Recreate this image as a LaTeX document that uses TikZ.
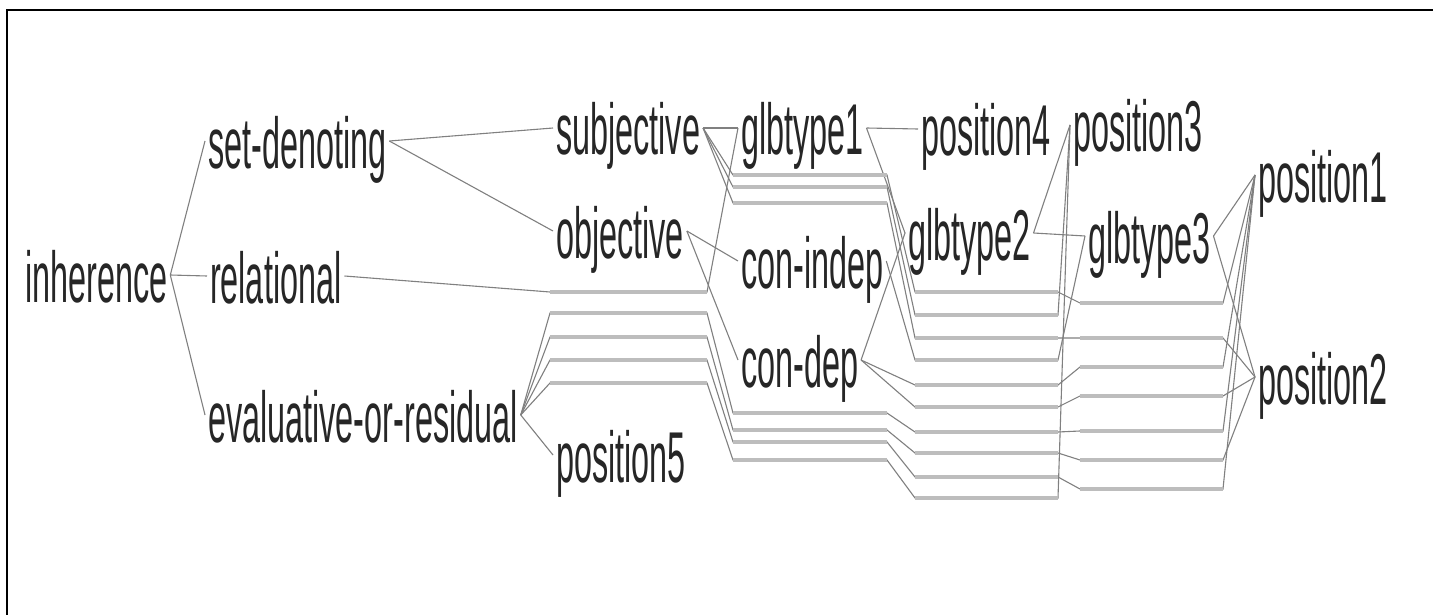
\documentclass[tikz,border=0pt]{standalone}
\usepackage{fontspec}
\usepackage{graphicx}
\newfontfamily\lblfamily{Liberation Sans}
\newcommand{\lbl}[1]{\scalebox{0.45}[1]{#1}}
% a routing bar for an edge that crosses a column
\newcommand{\routebar}[4]{\coordinate (#1-l) at (#2,#4); \coordinate (#1-r) at (#3,#4);}
\begin{document}
\begin{tikzpicture}[x=1pt,y=-1pt,
  lbl/.style={anchor=base west, inner sep=0pt, outer xsep=3pt, outer ysep=0pt,
    text height=54pt, text depth=0pt, text=black!85,
    font=\lblfamily\fontsize{72}{80}\selectfont},
  edge/.style={draw=black!50, line width=1.1pt},
  bar/.style={draw=black!26, line width=4.5pt}]
\useasboundingbox (0,0) rectangle (1433,615);
\fill[white] (0,0) rectangle (1433,615);
\draw[line width=2.2pt, line cap=rect] (7,615) -- (7,10) -- (1433,10);

% type nodes
\node[lbl] (inherence) at (22,302) {\lbl{inherence}};
\node[lbl] (setden) at (205,168) {\lbl{set-denoting}};
\node[lbl] (relational) at (207,303) {\lbl{relational}};
\node[lbl] (evalres) at (205,442) {\lbl{evaluative-or-residual}};
\node[lbl] (subjective) at (553,155) {\lbl{subjective}};
\node[lbl] (objective) at (553,258) {\lbl{objective}};
\node[lbl] (position5) at (553,482) {\lbl{position5}};
\node[lbl] (glbtype1) at (738,155) {\lbl{glbtype1}};
\node[lbl] (conindep) at (738,288) {\lbl{con-indep}};
\node[lbl] (condep) at (738,387) {\lbl{con-dep}};
\node[lbl] (position4) at (918,156) {\lbl{position4}};
\node[lbl] (glbtype2) at (905,260) {\lbl{glbtype2}};
\node[lbl] (position3) at (1070,152) {\lbl{position3}};
\node[lbl] (glbtype3) at (1085,263) {\lbl{glbtype3}};
\node[lbl] (position1) at (1255,202) {\lbl{position1}};
\node[lbl] (position2) at (1255,404) {\lbl{position2}};

% routing bars, column by column
\routebar{c2a}{550}{707}{292}
\routebar{c2b}{550}{707}{313}
\routebar{c2c}{550}{707}{337}
\routebar{c2d}{550}{707}{360}
\routebar{c2e}{550}{707}{383}
\routebar{c3a}{733}{887}{175}
\routebar{c3b}{733}{887}{187}
\routebar{c3c}{733}{887}{203}
\routebar{c3d}{733}{887}{413}
\routebar{c3e}{733}{887}{430}
\routebar{c3f}{733}{887}{442}
\routebar{c3g}{733}{887}{460}
\routebar{c4a}{915}{1058}{292}
\routebar{c4b}{915}{1058}{315}
\routebar{c4c}{915}{1058}{338}
\routebar{c4d}{915}{1058}{360}
\routebar{c4e}{915}{1058}{385}
\routebar{c4f}{915}{1058}{407}
\routebar{c4g}{915}{1058}{432}
\routebar{c4h}{915}{1058}{453}
\routebar{c4i}{915}{1058}{477}
\routebar{c4j}{915}{1058}{498}
\routebar{c5a}{1080}{1223}{303}
\routebar{c5b}{1080}{1223}{338}
\routebar{c5c}{1080}{1223}{367}
\routebar{c5d}{1080}{1223}{396}
\routebar{c5e}{1080}{1223}{431}
\routebar{c5f}{1080}{1223}{460}
\routebar{c5g}{1080}{1223}{489}

% direct links
\draw[edge] (inherence.east) -- (setden.west);
\draw[edge] (inherence.east) -- (relational.west);
\draw[edge] (inherence.east) -- (evalres.west);
\draw[edge] (setden.east) -- (subjective.west);
\draw[edge] (setden.east) -- (objective.west);
\draw[edge] (evalres.east) -- (position5.west);
\draw[edge] (subjective.east) -- (glbtype1.west);
\draw[edge] (objective.east) -- (conindep.west);
\draw[edge] (objective.east) -- (condep.west);
\draw[edge] (glbtype1.east) -- (position4.west);
\draw[edge] (glbtype1.east) -- (glbtype2.west);
\draw[edge] (condep.east) -- (glbtype2.west);
\draw[edge] (glbtype2.east) -- (position3.west);
\draw[edge] (glbtype2.east) -- (glbtype3.west);
\draw[edge] (glbtype3.east) -- (position1.west);
\draw[edge] (glbtype3.east) -- (position2.west);

% links routed across columns
\draw[edge] (relational.east) -- (c2a-l) -- (c2a-r) -- (glbtype1.west);
\draw[edge] (subjective.east) -- (c3a-l) -- (c3a-r) -- (c4a-l) -- (c4a-r) -- (c5a-l) -- (c5a-r) -- (position1.west);
\draw[edge] (subjective.east) -- (c3b-l) -- (c3b-r) -- (c4b-l) -- (c4b-r) -- (position3.west);
\draw[edge] (subjective.east) -- (c3c-l) -- (c3c-r) -- (c4c-l) -- (c4c-r) -- (c5b-l) -- (c5b-r) -- (position2.west);
\draw[edge] (conindep.east) -- (c4d-l) -- (c4d-r) -- (glbtype3.west);
\draw[edge] (condep.east) -- (c4e-l) -- (c4e-r) -- (c5c-l) -- (c5c-r) -- (position1.west);
\draw[edge] (condep.east) -- (c4f-l) -- (c4f-r) -- (c5d-l) -- (c5d-r) -- (position2.west);
\draw[edge] (evalres.east) -- (c2b-l) -- (c2b-r) -- (c3d-l) -- (c3d-r) -- (c4g-l) -- (c4g-r) -- (c5e-l) -- (c5e-r) -- (position1.west);
\draw[edge] (evalres.east) -- (c2c-l) -- (c2c-r) -- (c3e-l) -- (c3e-r) -- (c4h-l) -- (c4h-r) -- (c5f-l) -- (c5f-r) -- (position2.west);
\draw[edge] (evalres.east) -- (c2d-l) -- (c2d-r) -- (c3f-l) -- (c3f-r) -- (c4i-l) -- (c4i-r) -- (c5g-l) -- (c5g-r) -- (position1.west);
\draw[edge] (evalres.east) -- (c2e-l) -- (c2e-r) -- (c3g-l) -- (c3g-r) -- (c4j-l) -- (c4j-r) -- (position3.west);

% the bars themselves
\foreach \b in {c2a,c2b,c2c,c2d,c2e,c3a,c3b,c3c,c3d,c3e,c3f,c3g,
                c4a,c4b,c4c,c4d,c4e,c4f,c4g,c4h,c4i,c4j,
                c5a,c5b,c5c,c5d,c5e,c5f,c5g}
  \draw[bar] (\b-l) -- (\b-r);
\end{tikzpicture}
\end{document}
